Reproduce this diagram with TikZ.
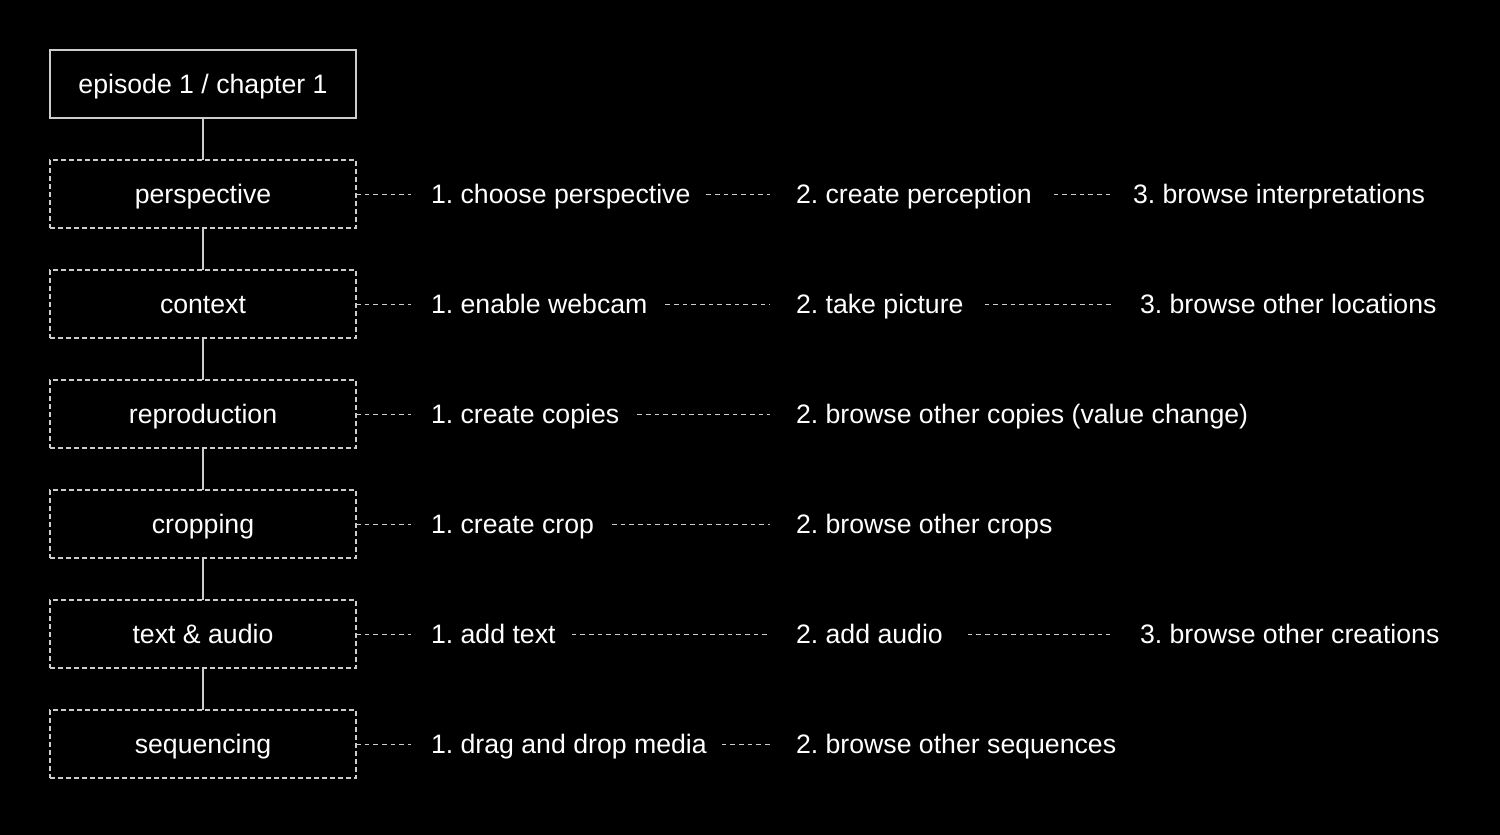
\documentclass[tikz,border=0pt]{standalone}
\usepackage{fontspec}
\setmainfont{Liberation Sans}
\usetikzlibrary{calc}
\definecolor{linegray}{RGB}{205,205,205}
\frenchspacing
\begin{document}
\begin{tikzpicture}[x=0.75pt,y=-0.75pt,
  every node/.style={text=white, font=\fontsize{20}{24}\selectfont\frenchspacing, inner sep=0pt, outer sep=0pt, text height=16.5pt, text depth=2.25pt},
  basebox/.style={draw=linegray, line width=0.8pt, minimum width=229.5pt, minimum height=51pt},
  rootbox/.style={basebox},
  stagebox/.style={basebox, dash pattern=on 3.9pt off 2.1pt},
  stepnode/.style={anchor=west},
  link/.style={draw=linegray, line width=0.8pt},
  dotlink/.style={draw=linegray, line width=0.7pt, dash pattern=on 3.5pt off 3pt}]
\fill[black] (0,0) rectangle (1500,835);

\node[rootbox] (root) at (203,84) {episode 1 / chapter 1};
\node[stagebox] (b1) at (203,194) {perspective};
\node[stagebox] (b2) at (203,304) {context};
\node[stagebox] (b3) at (203,414) {reproduction};
\node[stagebox] (b4) at (203,524) {cropping};
\node[stagebox] (b5) at (203,634) {text \& audio};
\node[stagebox] (b6) at (203,744) {sequencing};

\draw[link] (root.south) -- (b1.north);
\draw[link] (b1.south) -- (b2.north);
\draw[link] (b2.south) -- (b3.north);
\draw[link] (b3.south) -- (b4.north);
\draw[link] (b4.south) -- (b5.north);
\draw[link] (b5.south) -- (b6.north);

% row 1
\node[stepnode] (a1) at (431,194) {1. choose perspective};
\node[stepnode] (a2) at (796,194) {2. create perception};
\node[stepnode] (a3) at (1133,194) {3. browse interpretations};
% row 2
\node[stepnode] (c1) at (431,304) {1. enable webcam};
\node[stepnode] (c2) at (796,304) {2. take picture};
\node[stepnode] (c3) at (1140,304) {3. browse other locations};
% row 3
\node[stepnode] (r1) at (431,414) {1. create copies};
\node[stepnode] (r2) at (796,414) {2. browse other copies (value change)};
% row 4
\node[stepnode] (k1) at (431,524) {1. create crop};
\node[stepnode] (k2) at (796,524) {2. browse other crops};
% row 5
\node[stepnode] (t1) at (431,634) {1. add text};
\node[stepnode] (t2) at (796,634) {2. add audio};
\node[stepnode] (t3) at (1140,634) {3. browse other creations};
% row 6
\node[stepnode] (s1) at (431,744) {1. drag and drop media};
\node[stepnode] (s2) at (796,744) {2. browse other sequences};

% dashed connectors
\draw[dotlink] (b1.east) -- ($(a1.west)+(-20,0)$);
\draw[dotlink] ($(a1.east)+(16,0)$) -- ($(a2.west)+(-26,0)$);
\draw[dotlink] ($(a2.east)+(22,0)$) -- ($(a3.west)+(-20,0)$);

\draw[dotlink] (b2.east) -- ($(c1.west)+(-20,0)$);
\draw[dotlink] ($(c1.east)+(18,0)$) -- ($(c2.west)+(-26,0)$);
\draw[dotlink] ($(c2.east)+(21,0)$) -- ($(c3.west)+(-27,0)$);

\draw[dotlink] (b3.east) -- ($(r1.west)+(-20,0)$);
\draw[dotlink] ($(r1.east)+(18,0)$) -- ($(r2.west)+(-26,0)$);

\draw[dotlink] (b4.east) -- ($(k1.west)+(-20,0)$);
\draw[dotlink] ($(k1.east)+(18,0)$) -- ($(k2.west)+(-26,0)$);

\draw[dotlink] (b5.east) -- ($(t1.west)+(-20,0)$);
\draw[dotlink] ($(t1.east)+(16,0)$) -- ($(t2.west)+(-26,0)$);
\draw[dotlink] ($(t2.east)+(25,0)$) -- ($(t3.west)+(-30,0)$);

\draw[dotlink] (b6.east) -- ($(s1.west)+(-20,0)$);
\draw[dotlink] ($(s1.east)+(15,0)$) -- ($(s2.west)+(-26,0)$);
\end{tikzpicture}
\end{document}
